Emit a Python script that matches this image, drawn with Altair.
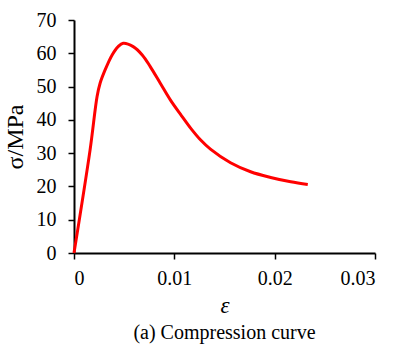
import altair as alt
import pandas as pd

strain = [0, 0.0016, 0.0023, 0.0026, 0.0031, 0.0038, 0.0044, 0.0049, 0.0059,
          0.0068, 0.0076, 0.0086, 0.0096, 0.0107, 0.0117, 0.0126, 0.0136,
          0.0156, 0.0176, 0.0196, 0.0216, 0.0233]
stress = [0, 30.9, 47, 51, 55, 59.5, 62.0, 63, 62, 59.5, 56, 51, 46, 41.3,
          37.2, 34.0, 31.2, 27.1, 24.4, 22.7, 21.4, 20.6]
x_ticks = [0, 0.01, 0.02, 0.03]
y_ticks = [0, 10, 20, 30, 40, 50, 60, 70]

df = pd.DataFrame({"strain": strain, "stress": stress})
FONT = "Liberation Serif"

chart = alt.Chart(df).mark_line(color="#ff0000", strokeWidth=3, interpolate="catmull-rom").encode(
    x=alt.X("strain:Q", scale=alt.Scale(domain=[0, 0.03], nice=False),
            axis=alt.Axis(values=x_ticks, title="ε", titleFontStyle="italic",
                          titleFontWeight="normal", titleFontSize=23, titlePadding=6,
                          labelExpr="datum.value == 0 ? '0' : format(datum.value, '.2f')",
                          labelPadding=9)),
    y=alt.Y("stress:Q", scale=alt.Scale(domain=[0, 70], nice=False),
            axis=alt.Axis(values=y_ticks, title="σ/MPa", titleFontWeight="normal",
                          titleFontSize=24, titlePadding=9, labelPadding=12)),
).properties(
    width=301, height=233,
    autosize=alt.AutoSizeParams(type="none"),
    padding={"left": 74, "top": 20, "right": 18, "bottom": 92},
    title=alt.Title("(a) Compression curve", orient="bottom", font=FONT,
                    fontSize=20, fontWeight="normal", color="black", offset=6),
).configure_view(stroke=None).configure_axis(
    grid=False, domainColor="black", domainWidth=2, tickColor="black",
    tickWidth=1.5, tickSize=6, labelFont=FONT, labelFontSize=20,
    labelColor="black", titleFont=FONT, titleColor="black",
)

chart.save("out.html", embed_options={"renderer": "svg", "actions": False})
